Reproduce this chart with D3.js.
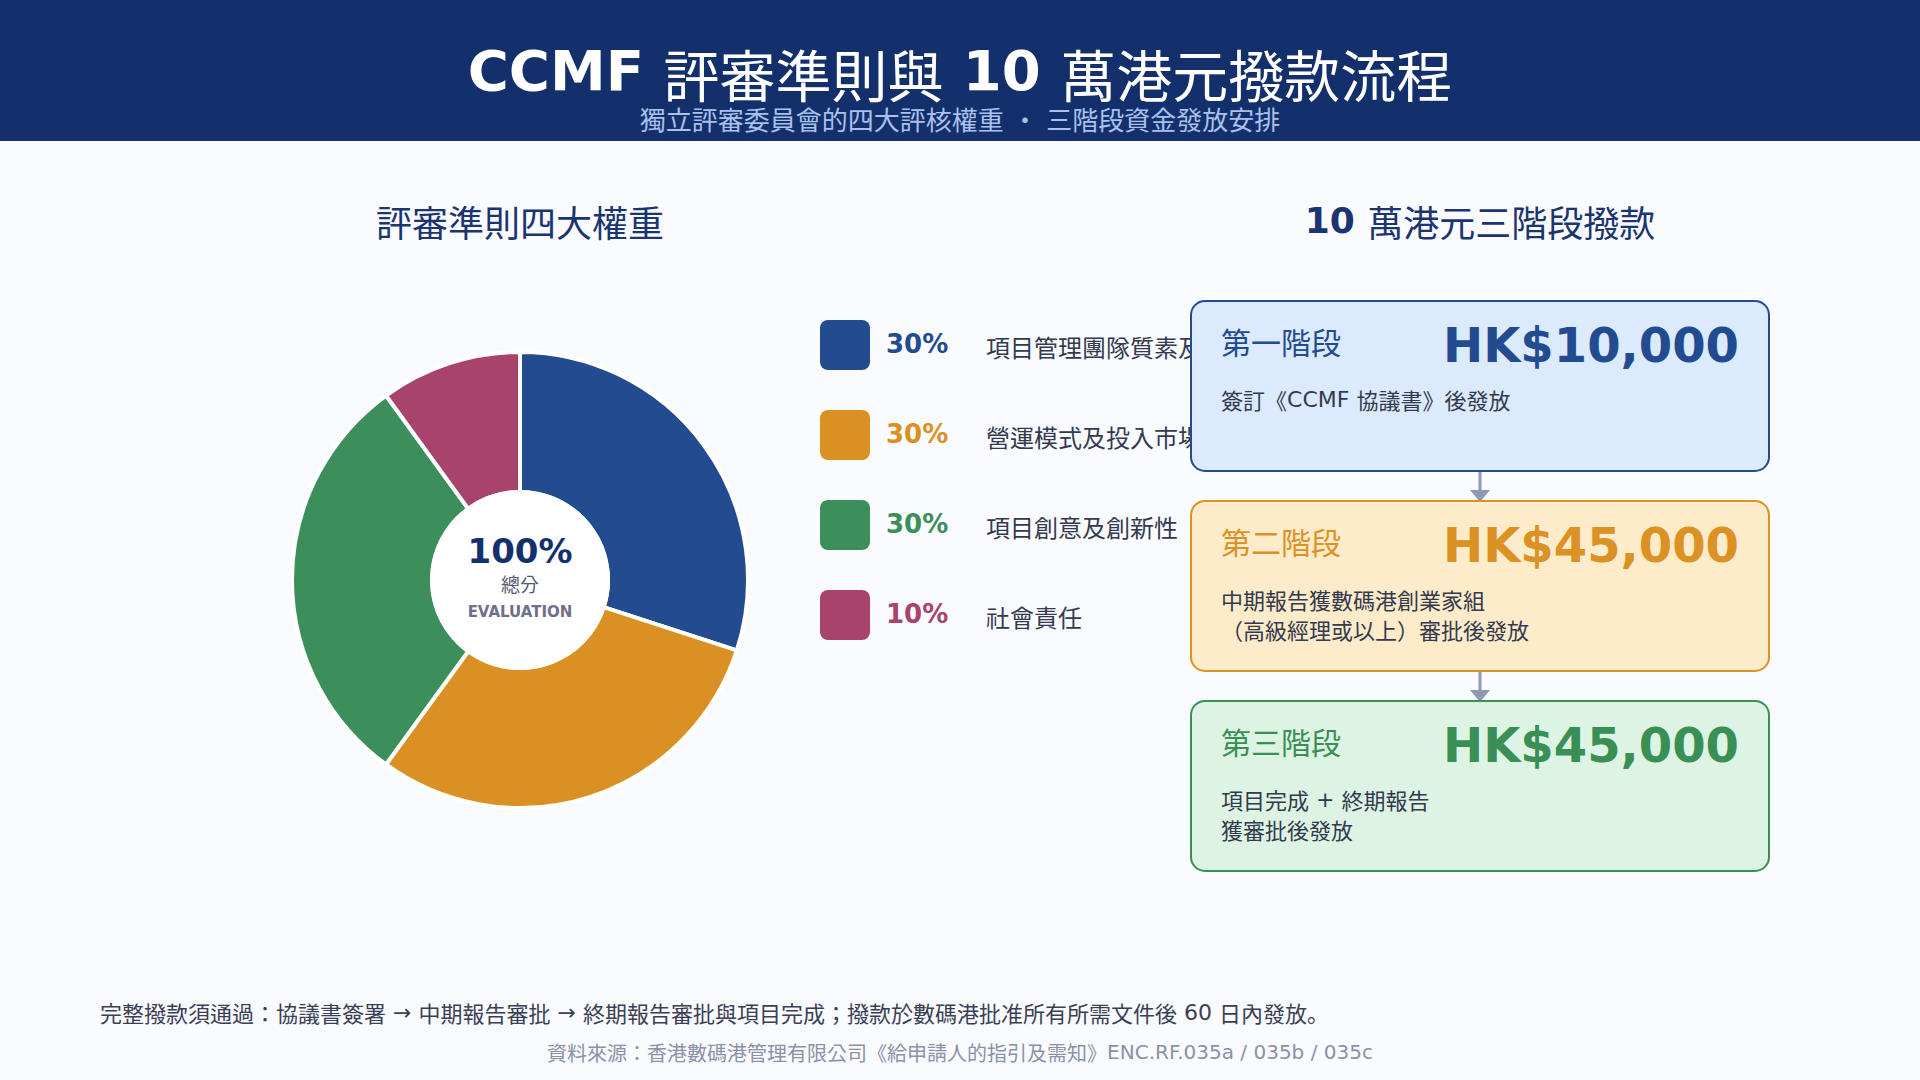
<!DOCTYPE html>
<html>
<head>
<meta charset="utf-8">
<script src="https://cdn.jsdelivr.net/npm/d3@7"></script>
<style>
  body { margin: 0; background: #fafbfe; }
  svg { display: block; font-family: "DejaVu Sans", "Noto Sans CJK KR", "Noto Sans CJK TC", sans-serif; }
</style>
</head>
<body>
<div id="chart"></div>
<script>
// chart data
let titleText = "CCMF 評審準則與 10 萬港元撥款流程";
let subtitleText = "獨立評審委員會的四大評核權重 ・ 三階段資金發放安排";
let leftTitle = "評審準則四大權重";
let rightTitle = "10 萬港元三階段撥款";

let criteria = [
    "項目管理團隊質素及能力",
    "營運模式及投入市場策略",
    "項目創意及創新性",
    "社會責任"
];
let weights = [30, 30, 30, 10];
let criteriaColors = ["#234b8f", "#db9024", "#3c8f5a", "#a8446b"];

let stages = ["第一階段", "第二階段", "第三階段"];
let amounts = [10000, 45000, 45000];
let stageNotes = [
    ["簽訂《CCMF 協議書》後發放"],
    ["中期報告獲數碼港創業家組", "（高級經理或以上）審批後發放"],
    ["項目完成 + 終期報告", "獲審批後發放"]
];
let stageColors = ["#234b8f", "#dc9125", "#3a8f55"];
let stageFills = ["#dceafd", "#feebc9", "#ddf4e4"];

let footNote = "完整撥款須通過：協議書簽署 → 中期報告審批 → 終期報告審批與項目完成；撥款於數碼港批准所有所需文件後 60 日內發放。";
let sourceNote = "資料來源：香港數碼港管理有限公司《給申請人的指引及需知》ENC.RF.035a / 035b / 035c";

let width = 1920;
let height = 1080;

var svg = d3.select("#chart")
    .append("svg")
    .attr("width", width)
    .attr("height", height);

svg.append("rect")
    .attr("width", width)
    .attr("height", height)
    .attr("fill", "#fafbfe");

// split text into latin / CJK runs: latin may be bold, CJK stays regular
// and sits a little lower, as in the original
let cjk = /[\u2e80-\u9fff\uff00-\uffef\u3000-\u303f]/;
function mixedText(sel, text, bold, shift) {
    let runs = [];
    for (let ch of text) {
        let isCjk = cjk.test(ch);
        if (runs.length && runs[runs.length - 1].cjk === isCjk) runs[runs.length - 1].t += ch;
        else runs.push({ t: ch, cjk: isCjk });
    }
    sel.selectAll("tspan")
        .data(runs)
        .enter()
        .append("tspan")
        .attr("font-weight", d => (bold && !d.cjk) ? "bold" : "normal")
        .attr("dy", (d, i) => {
            if (d.cjk) return shift + "em";
            return i === 0 ? 0 : (-shift) + "em";
        })
        .text(d => d.t);
}

// header band
svg.append("rect")
    .attr("width", width)
    .attr("height", 141)
    .attr("fill", "#14306c");

svg.append("text")
    .attr("x", width / 2)
    .attr("y", 90)
    .attr("text-anchor", "middle")
    .attr("font-size", 56)
    .attr("fill", "#ffffff")
    .call(mixedText, titleText, true, 0.12);

svg.append("text")
    .attr("x", width / 2)
    .attr("y", 130)
    .attr("text-anchor", "middle")
    .attr("font-size", 26)
    .attr("fill", "#a9c1ec")
    .text(subtitleText);

// panel titles
svg.append("text")
    .attr("x", 520)
    .attr("y", 237)
    .attr("text-anchor", "middle")
    .attr("font-size", 36)
    .attr("fill", "#1b3570")
    .text(leftTitle);

svg.append("text")
    .attr("x", 1480)
    .attr("y", 233)
    .attr("text-anchor", "middle")
    .attr("font-size", 36)
    .attr("fill", "#1b3570")
    .call(mixedText, rightTitle, true, 0.12);

// donut
let cx = 520, cy = 580;
let pie = d3.pie().sort(null).value(d => d);
let arc = d3.arc().innerRadius(88).outerRadius(228);

let donut = svg.append("g")
    .attr("transform", "translate(" + cx + "," + cy + ")");

donut.selectAll("path")
    .data(pie(weights))
    .enter()
    .append("path")
    .attr("d", arc)
    .attr("fill", (d, i) => criteriaColors[i])
    .attr("stroke", "#ffffff")
    .attr("stroke-width", 4);

donut.append("circle")
    .attr("r", 90)
    .attr("fill", "#ffffff");

donut.append("text")
    .attr("y", -17)
    .attr("text-anchor", "middle")
    .attr("font-size", 34)
    .attr("font-weight", "bold")
    .attr("fill", "#14306c")
    .text(d3.sum(weights) + "%");

donut.append("text")
    .attr("y", 12)
    .attr("text-anchor", "middle")
    .attr("font-size", 19)
    .attr("fill", "#555a6e")
    .text("總分");

donut.append("text")
    .attr("y", 37)
    .attr("text-anchor", "middle")
    .attr("font-size", 15)
    .attr("font-weight", "bold")
    .attr("fill", "#6f7088")
    .text("EVALUATION");

// stage box geometry (legend labels run under the boxes)
let boxX = 1191, boxW = 578;

// legend
var ly = d3.scaleBand()
    .domain(d3.range(criteria.length))
    .range([320, 640])
    .paddingInner(40 / 90);

svg.append("clipPath")
    .attr("id", "legendClip")
    .append("rect")
    .attr("x", 0)
    .attr("y", 0)
    .attr("width", boxX)
    .attr("height", height);

let legend = svg.append("g")
    .attr("clip-path", "url(#legendClip)");
let rows = legend.selectAll("g")
    .data(criteria)
    .enter()
    .append("g")
    .attr("transform", (d, i) => "translate(820," + ly(i) + ")");

rows.append("rect")
    .attr("width", ly.bandwidth())
    .attr("height", ly.bandwidth())
    .attr("rx", 8)
    .attr("fill", (d, i) => criteriaColors[i]);

rows.append("text")
    .attr("x", 66)
    .attr("y", 33)
    .attr("font-size", 26)
    .attr("font-weight", "bold")
    .attr("fill", (d, i) => criteriaColors[i])
    .text((d, i) => weights[i] + "%");

rows.append("text")
    .attr("x", 166)
    .attr("y", 37)
    .attr("font-size", 24)
    .attr("fill", "#333a4f")
    .text(d => d);

// stage boxes
var sy = d3.scaleBand()
    .domain(d3.range(stages.length))
    .range([301, 871])
    .paddingInner(0.15);

let fmt = d3.format(",");

// connecting arrows
let arrows = svg.append("g");
for (let i = 0; i < stages.length - 1; i++) {
    let ax = boxX + boxW / 2;
    let y0 = sy(i) + sy.bandwidth() + 1;
    let y1 = sy(i + 1);
    arrows.append("line")
        .attr("x1", ax)
        .attr("x2", ax)
        .attr("y1", y0)
        .attr("y2", y1 - 9)
        .attr("stroke", "#8d9ab2")
        .attr("stroke-width", 3);
    arrows.append("path")
        .attr("d", "M" + (ax - 10) + "," + (y1 - 11) + "L" + (ax + 10) + "," + (y1 - 11) + "L" + ax + "," + (y1 + 1) + "Z")
        .attr("fill", "#8d9ab2");
}

let boxes = svg.selectAll(".stage")
    .data(stages)
    .enter()
    .append("g")
    .attr("class", "stage")
    .attr("transform", (d, i) => "translate(" + boxX + "," + sy(i) + ")");

boxes.append("rect")
    .attr("width", boxW)
    .attr("height", sy.bandwidth())
    .attr("rx", 14)
    .attr("fill", (d, i) => stageFills[i])
    .attr("stroke", (d, i) => stageColors[i])
    .attr("stroke-width", 2);

boxes.append("text")
    .attr("x", 30)
    .attr("y", 53)
    .attr("font-size", 30)
    .attr("fill", (d, i) => stageColors[i])
    .text(d => d);

boxes.append("text")
    .attr("x", boxW - 30)
    .attr("y", 61)
    .attr("text-anchor", "end")
    .attr("font-size", 48)
    .attr("font-weight", "bold")
    .attr("fill", (d, i) => stageColors[i])
    .text((d, i) => "HK$" + fmt(amounts[i]));

boxes.each(function (d, i) {
    d3.select(this).selectAll(".note")
        .data(stageNotes[i])
        .enter()
        .append("text")
        .attr("class", "note")
        .attr("x", 30)
        .attr("y", (t, j) => 106 + j * 30)
        .attr("font-size", 22)
        .attr("fill", "#333a4f")
        .each(function (t) { d3.select(this).call(mixedText, t, false, 0.08); });
});

// footer
svg.append("text")
    .attr("x", 100)
    .attr("y", 1020)
    .attr("font-size", 22)
    .attr("fill", "#3a3f55")
    .call(mixedText, footNote, false, 0.08);

svg.append("text")
    .attr("x", width / 2)
    .attr("y", 1059)
    .attr("text-anchor", "middle")
    .attr("font-size", 20)
    .attr("fill", "#8a91a8")
    .call(mixedText, sourceNote, false, 0.08);
</script>
</body>
</html>
